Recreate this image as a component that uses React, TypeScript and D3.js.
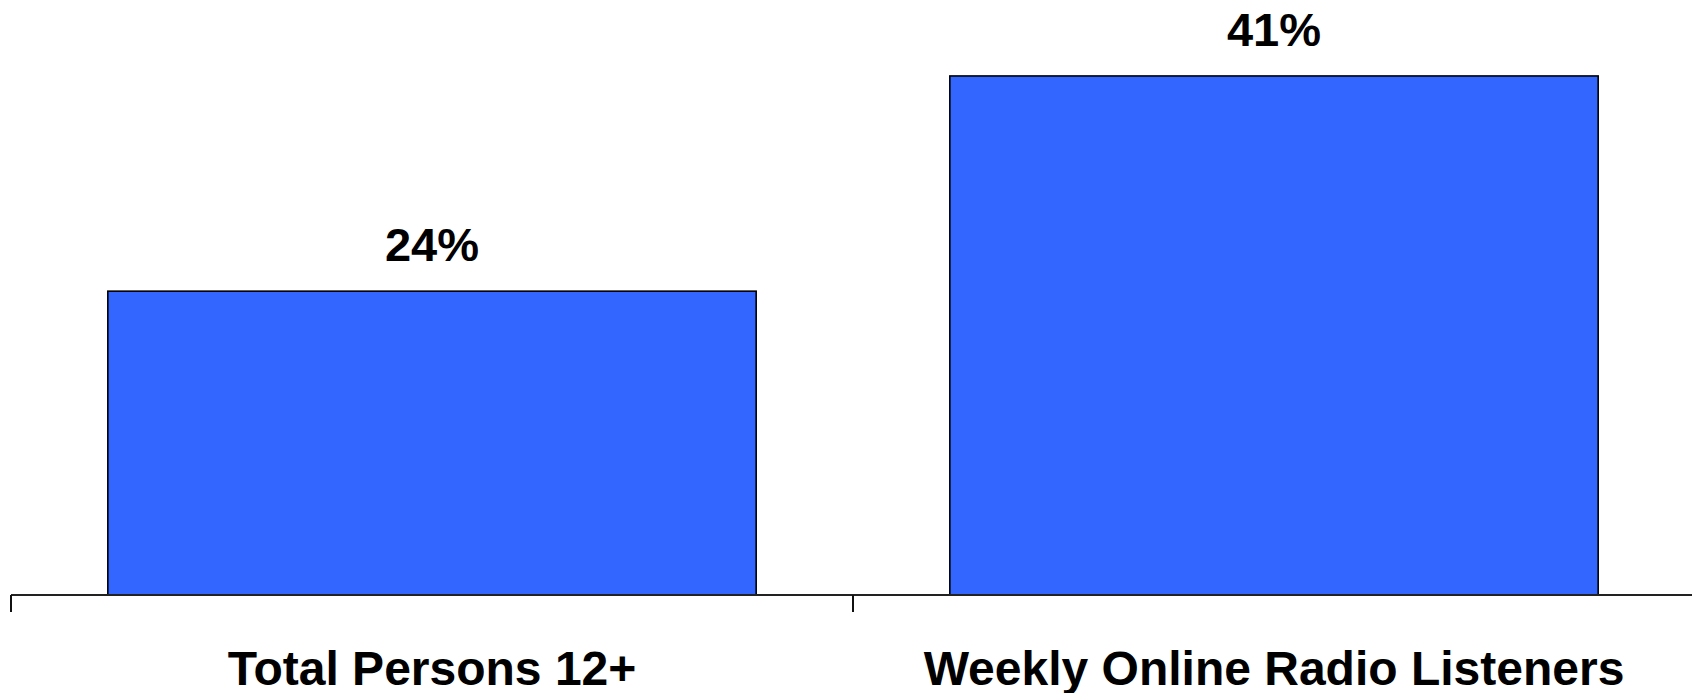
import React from "react";
import * as d3 from "d3";

const categories: string[] = ["Total Persons 12+", "Weekly Online Radio Listeners"];
const values: number[] = [24, 41];
const valueLabels: string[] = ["24%", "41%"];

const W = 1692;
const H = 693;

export default function App() {
  const x = d3
    .scaleBand<string>()
    .domain(categories)
    .range([11, 1695])
    .paddingInner(0.23)
    .paddingOuter(0.115);
  const y = d3.scaleLinear().domain([0, 47]).range([595, 0]);
  const step = x.step();
  const x0 = x.range()[0];
  const tickXs = d3.range(categories.length + 1).map((i) => x0 + i * step);
  const font = "'Liberation Sans', Arial, Helvetica, sans-serif";

  return (
    <svg
      width={W}
      height={H}
      style={{ position: "absolute", left: 0, top: 0, background: "#fff" }}
    >
      {categories.map((c, i) => (
        <rect
          key={c}
          x={x(c)!}
          y={y(values[i])}
          width={x.bandwidth()}
          height={y(0) - y(values[i])}
          fill="#3366FF"
          stroke="#000"
          strokeWidth={1.6}
        />
      ))}
      <line x1={x0} x2={W} y1={y(0)} y2={y(0)} stroke="#222" strokeWidth={2} />
      {tickXs.map((tx, i) => (
        <line key={i} x1={tx} x2={tx} y1={y(0)} y2={y(0) + 17} stroke="#111" strokeWidth={2} />
      ))}
      {categories.map((c, i) => (
        <text
          key={"v" + c}
          x={x(c)! + x.bandwidth() / 2}
          y={y(values[i]) - 30}
          textAnchor="middle"
          fontFamily={font}
          fontWeight="bold"
          fontSize={47}
          fill="#000"
        >
          {valueLabels[i]}
        </text>
      ))}
      {categories.map((c) => (
        <text
          key={"c" + c}
          x={x(c)! + x.bandwidth() / 2}
          y={685}
          textAnchor="middle"
          fontFamily={font}
          fontWeight="bold"
          fontSize={48}
          fill="#000"
        >
          {c}
        </text>
      ))}
    </svg>
  );
}
